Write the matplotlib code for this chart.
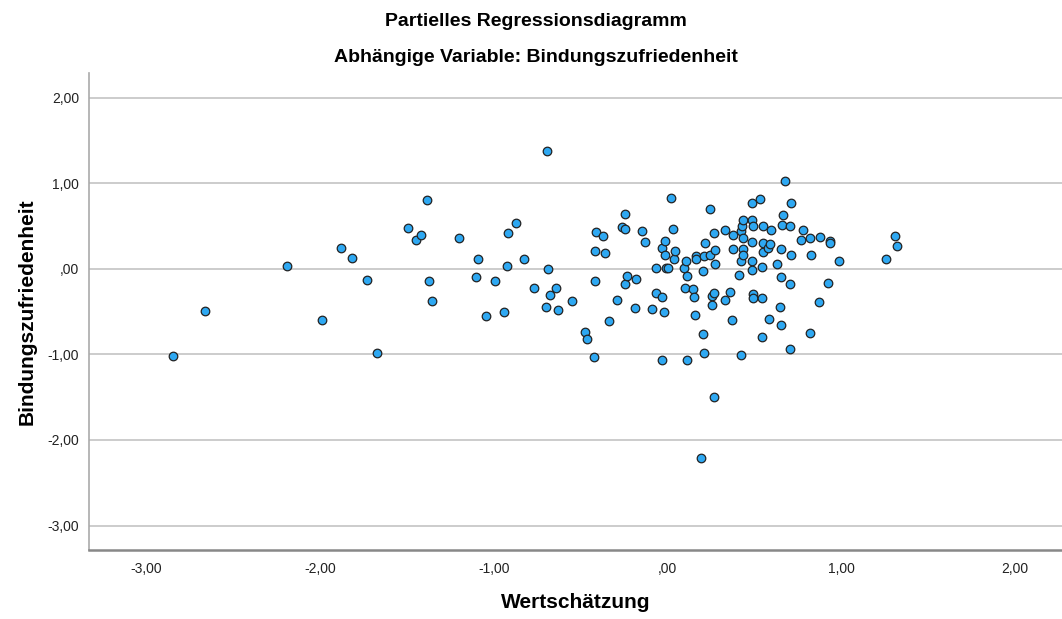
import numpy as np
import matplotlib
matplotlib.use("Agg")
import matplotlib.pyplot as plt

plt.rcParams['font.family'] = ['Liberation Sans', 'DejaVu Sans']

# partial residuals
wertschaetzung = [
    -2.848, -2.664, -2.192, -1.987, -1.881, -1.816, -1.730, -1.670, -1.494, -1.446,
    -1.417, -1.383, -1.373, -1.356, -1.199, -1.101, -1.093, -1.045, -0.993, -0.940,
    -0.926, -0.917, -0.873, -0.829, -0.769, -0.702, -0.692, -0.689, -0.677, -0.640,
    -0.629, -0.551, -0.474, -0.462, -0.422, -0.416, -0.416, -0.412, -0.372, -0.358,
    -0.339, -0.293, -0.265, -0.247, -0.243, -0.243, -0.232, -0.188, -0.182, -0.146,
    -0.132, -0.088, -0.069, -0.065, -0.035, -0.035, -0.031, -0.019, -0.016, -0.016,
    -0.008, 0.000, 0.021, 0.029, 0.036, 0.040, 0.096, 0.098, 0.107, 0.109,
    0.109, 0.146, 0.154, 0.155, 0.161, 0.161, 0.194, 0.203, 0.203, 0.209,
    0.209, 0.215, 0.242, 0.246, 0.253, 0.253, 0.265, 0.265, 0.267, 0.272,
    0.272, 0.328, 0.328, 0.361, 0.370, 0.374, 0.378, 0.409, 0.420, 0.424,
    0.424, 0.430, 0.432, 0.432, 0.432, 0.434, 0.483, 0.485, 0.485, 0.485,
    0.487, 0.489, 0.493, 0.493, 0.533, 0.541, 0.543, 0.545, 0.547, 0.548,
    0.552, 0.579, 0.581, 0.587, 0.597, 0.627, 0.646, 0.650, 0.652, 0.654,
    0.656, 0.662, 0.673, 0.702, 0.704, 0.704, 0.708, 0.709, 0.769, 0.777,
    0.817, 0.817, 0.825, 0.869, 0.876, 0.926, 0.936, 0.936, 0.986, 1.256,
    1.308, 1.318,
]
bindungszufriedenheit = [
    -1.013, -0.495, 0.030, -0.600, 0.240, 0.125, -0.124, -0.980, 0.476, 0.340,
    0.400, 0.803, -0.140, -0.378, 0.360, -0.097, 0.120, -0.550, -0.140, -0.506,
    0.030, 0.418, 0.540, 0.120, -0.218, -0.440, 1.373, 0.000, -0.300, -0.222,
    -0.475, -0.374, -0.740, -0.820, -1.030, 0.210, -0.144, 0.430, 0.386, 0.187,
    -0.608, -0.360, 0.488, 0.636, 0.464, -0.171, -0.078, -0.460, -0.117, 0.440,
    0.309, -0.464, 0.005, -0.280, 0.242, -0.327, -1.060, -0.506, 0.324, 0.168,
    0.010, 0.010, 0.827, 0.468, 0.110, 0.210, 0.016, -0.218, 0.094, -0.081,
    -1.064, -0.230, -0.323, -0.542, 0.149, 0.117, -2.214, -0.023, -0.756, 0.149,
    -0.982, 0.297, 0.168, 0.695, -0.319, -0.417, 0.421, -0.276, -1.497, 0.219,
    0.063, 0.449, -0.366, -0.269, -0.592, 0.234, 0.398, -0.070, 0.098, 0.444,
    -1.006, 0.503, 0.570, 0.367, 0.234, 0.168, 0.094, 0.566, 0.316, -0.015,
    0.768, 0.503, -0.296, -0.335, 0.820, 0.023, -0.339, -0.800, 0.503, 0.192,
    0.304, 0.250, -0.580, 0.289, 0.456, 0.055, -0.444, -0.655, -0.094, 0.238,
    0.508, 0.628, 1.030, -0.936, 0.503, -0.175, 0.765, 0.168, 0.339, 0.456,
    0.363, -0.744, 0.164, -0.390, 0.374, -0.167, 0.330, 0.300, 0.094, 0.121,
    0.379, 0.265,
]

ticks = [-3, -2, -1, 0, 1, 2]
tick_labels = ['-3,00', '-2,00', '-1,00', ',00', '1,00', '2,00']

fig = plt.figure(figsize=(10.62, 6.19), dpi=100)
ax = fig.add_axes([89/1062, 1 - 549.5/619, 1 - 89/1062, (549.5 - 73)/619])

ax.scatter(wertschaetzung, bindungszufriedenheit, s=38, c='#2ea8f2',
           edgecolors='#222222', linewidths=0.9, zorder=3)

ax.set_xlim(-3.33, 2.27)
ax.set_ylim(-3.28, 2.29)
ax.set_xticks(ticks)
ax.set_xticklabels(tick_labels)
ax.set_yticks(ticks)
ax.set_yticklabels(tick_labels)
ax.tick_params(axis='both', length=0, labelsize=10, colors='#222222')
ax.tick_params(axis='x', pad=9)
ax.tick_params(axis='y', pad=7)
ax.yaxis.grid(True, color='#c4c4c4', linewidth=1.2, zorder=0)
ax.set_axisbelow(True)

for s in ['top', 'right']:
    ax.spines[s].set_visible(False)
ax.spines['left'].set_color('#aaaaaa')
ax.spines['left'].set_linewidth(1.2)
ax.spines['bottom'].set_color('#888888')
ax.spines['bottom'].set_linewidth(1.8)

ax.set_xlabel('Wertschätzung', fontsize=15, fontweight='bold', labelpad=12)
ax.set_ylabel('Bindungszufriedenheit', fontsize=15, fontweight='bold', labelpad=8)

fig.text(536/1062, 1 - 21/619, 'Partielles Regressionsdiagramm',
         ha='center', va='center', fontsize=14, fontweight='bold')
fig.text(536/1062, 1 - 58/619, 'Abhängige Variable: Bindungszufriedenheit',
         ha='center', va='center', fontsize=14, fontweight='bold')

fig.savefig('out.png', dpi=100)
